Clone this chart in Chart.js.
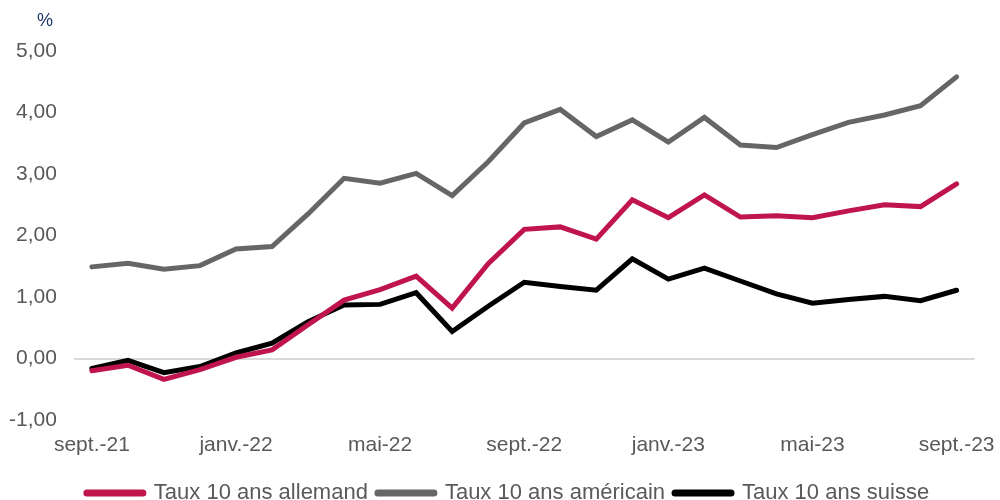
<!DOCTYPE html>
<html><head><meta charset="utf-8">
<script src="https://cdn.jsdelivr.net/npm/chart.js@4/dist/chart.umd.min.js"></script>
<style>
html,body{margin:0;padding:0;background:#fff;}
#wrap{position:relative;width:1000px;height:500px;}
#pct{position:absolute;left:37px;top:10px;font-family:"Liberation Sans",Arial,sans-serif;font-size:18px;color:#1F3864;}
</style></head>
<body>
<div id="wrap"><div id="pct">%</div><canvas id="c" width="1000" height="500"></canvas></div>
<script>
const months = ["sept.-21","oct.-21","nov.-21","déc.-21","janv.-22","févr.-22","mars-22","avr.-22","mai-22","juin-22","juil.-22","août-22","sept.-22","oct.-22","nov.-22","déc.-22","janv.-23","févr.-23","mars-23","avr.-23","mai-23","juin-23","juil.-23","août-23","sept.-23"];
const allemand = [-0.20,-0.11,-0.34,-0.18,0.02,0.14,0.55,0.95,1.12,1.34,0.82,1.54,2.10,2.14,1.94,2.58,2.29,2.66,2.30,2.32,2.29,2.40,2.50,2.47,2.84];
const americain = [1.49,1.55,1.45,1.51,1.78,1.82,2.35,2.93,2.85,3.01,2.65,3.20,3.83,4.05,3.61,3.88,3.52,3.92,3.47,3.43,3.64,3.84,3.96,4.11,4.58];
const suisse = [-0.16,-0.03,-0.23,-0.13,0.09,0.25,0.60,0.87,0.88,1.07,0.44,0.85,1.24,1.17,1.11,1.62,1.29,1.47,1.26,1.05,0.90,0.96,1.01,0.94,1.11];
const seriesNames = ["Taux 10 ans allemand","Taux 10 ans américain","Taux 10 ans suisse"];
const yTicks = [-1,0,1,2,3,4,5];

const font = "'Liberation Sans', Arial, sans-serif";
const shiftLegend = {
  id:'shiftLegend',
  afterLayout(chart){ const l = chart.legend; if(l){ l.left += 24; l.right += 24; } }
};
new Chart(document.getElementById('c'), {
  type: 'line',
  data: {
    labels: months,
    datasets: [
      {label: seriesNames[0], data: allemand, borderColor:'#C0144C', backgroundColor:'#C0144C'},
      {label: seriesNames[1], data: americain, borderColor:'#666666', backgroundColor:'#666666'},
      {label: seriesNames[2], data: suisse, borderColor:'#000000', backgroundColor:'#000000'}
    ].map(d => Object.assign(d, {borderWidth:5, pointRadius:0, tension:0, fill:false, borderJoinStyle:'miter', borderCapStyle:'round'}))
  },
  plugins:[shiftLegend],
  options: {
    responsive:false, animation:false,
    layout:{padding:{left:-8,right:24,top:51,bottom:-14}},
    plugins:{
      tooltip:{enabled:false},
      legend:{position:'bottom', labels:{font:{family:font,size:22}, color:'#595959', usePointStyle:true, pointStyleWidth:56, boxWidth:56, boxHeight:6, padding:10,
        generateLabels:(ch)=>ch.data.datasets.map((d,i)=>({text:d.label, fillStyle:d.borderColor, strokeStyle:d.borderColor, lineWidth:7, lineCap:'round', pointStyle:'line', datasetIndex:i, fontColor:'#595959'}))}}
    },
    scales:{
      x:{offset:true, grid:{display:false}, border:{display:false},
         afterFit:(s)=>{ s.height = 52; },
         ticks:{autoSkip:false, maxRotation:0, color:'#595959', font:{family:font,size:21}, padding:5,
           callback:(v,i)=> i%4===0 ? months[i] : ''}},
      y:{min:-1, max:5, border:{display:false},
         afterBuildTicks:(s)=>{s.ticks = yTicks.map(v=>({value:v}));},
         grid:{drawTicks:false, color:(ctx)=> ctx.tick && ctx.tick.value===0 ? '#D9D9D9' : 'rgba(0,0,0,0)', lineWidth:2},
         ticks:{color:'#595959', font:{family:font,size:21}, padding:17,
           callback:(v)=> Number(v).toFixed(2).replace('.',',')}}
    }
  }
});
</script>
</body></html>
